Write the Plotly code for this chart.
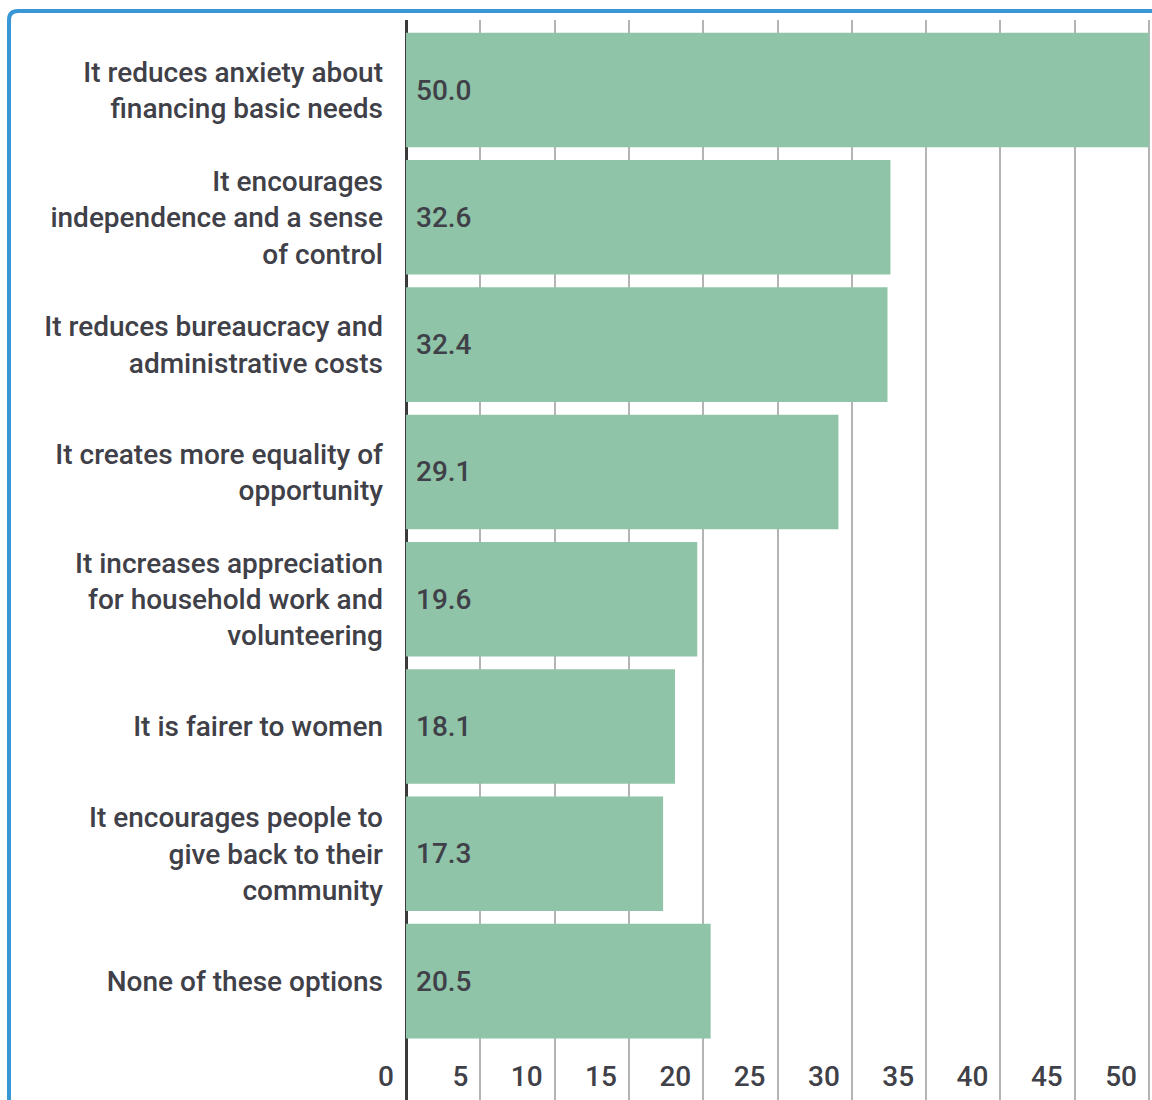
import plotly.graph_objects as go

# Survey responses: perceived benefits (% of respondents)
categories = [
    "It reduces anxiety about<br>financing basic needs",
    "It encourages<br>independence and a sense<br>of control",
    "It reduces bureaucracy and<br>administrative costs",
    "It creates more equality of<br>opportunity",
    "It increases appreciation<br>for household work and<br>volunteering",
    "It is fairer to women",
    "It encourages people to<br>give back to their<br>community",
    "None of these options",
]
values = [50.0, 32.6, 32.4, 29.1, 19.6, 18.1, 17.3, 20.5]
x_ticks = [0, 5, 10, 15, 20, 25, 30, 35, 40, 45, 50]

TEXT = "#404048"
FONT = "Roboto"
FS = 28

fig = go.Figure(
    go.Bar(
        x=values,
        y=categories,
        orientation="h",
        marker=dict(color="#8fc4a8", line=dict(width=0)),
        texttemplate=" %{x:.1f}",
        textposition="inside",
        insidetextanchor="start",
        textfont=dict(family=FONT, size=FS, color=TEXT, weight=500),
        cliponaxis=False,
        hoverinfo="skip",
    )
)

W, H = 1152, 1100
ML, MT = 406, 20
plot_w, plot_h = W - ML, H - MT

fig.update_layout(
    width=W,
    height=H,
    margin=dict(l=ML, r=0, t=MT, b=0),
    paper_bgcolor="white",
    plot_bgcolor="white",
    bargap=0.1,
    showlegend=False,
    font=dict(family=FONT, size=FS, color=TEXT),
    uniformtext=dict(mode="show", minsize=FS),
)

fig.update_xaxes(
    range=[0, 50.2],
    tickvals=x_ticks,
    ticktext=[str(v) for v in x_ticks],
    showgrid=True,
    gridcolor="#b4b4b4",
    gridwidth=1.5,
    zeroline=True,
    zerolinecolor="#3a3a3a",
    zerolinewidth=3,
    showline=False,
    ticks="",
    ticklabelposition="inside left",
    ticklabeloverflow="allow",
    ticklabelshift=-12,
    ticklabelstandoff=2,
    tickfont=dict(family=FONT, size=FS, color=TEXT, weight=500),
    fixedrange=True,
)

fig.update_yaxes(
    categoryorder="array",
    categoryarray=categories,
    range=[7.934, -0.55],
    showgrid=False,
    zeroline=False,
    showline=False,
    ticks="",
    ticklabelstandoff=22,
    tickfont=dict(family=FONT, size=FS, color=TEXT, weight=500),
    fixedrange=True,
)

# Rounded blue frame around the panel (opens to the right and bottom)
x0 = (9 - ML) / plot_w
y_top = (H - 11) / plot_h
dx, dy = 9 / plot_w, 9 / plot_h
fig.add_shape(
    type="path",
    xref="paper",
    yref="paper",
    path=(
        f"M {x0},-0.05 L {x0},{y_top - dy} "
        f"Q {x0},{y_top} {x0 + dx},{y_top} L 1.05,{y_top}"
    ),
    line=dict(color="#3a97d6", width=4),
    layer="above",
)

fig.write_html("out.html")
